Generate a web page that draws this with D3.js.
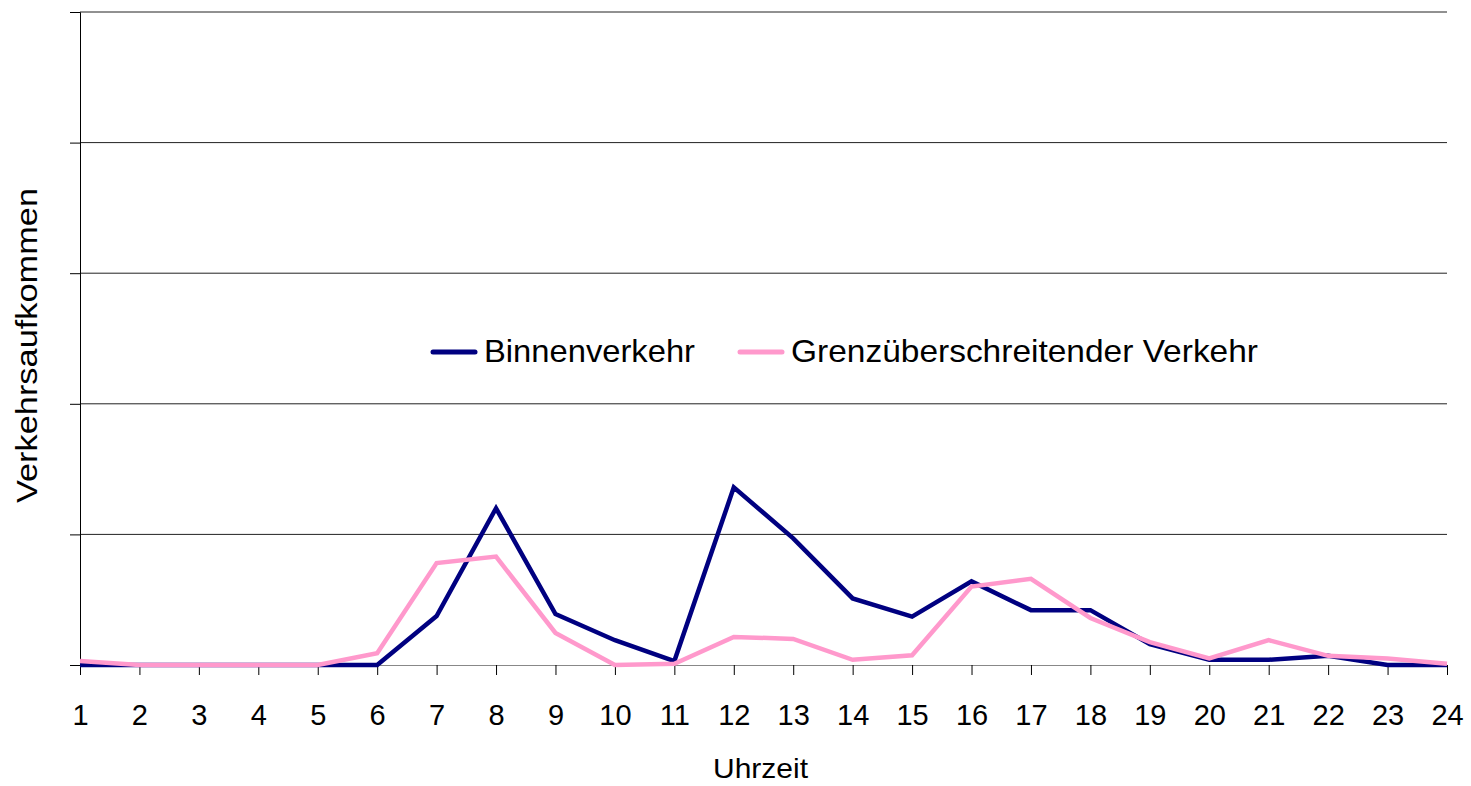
<!DOCTYPE html>
<html>
<head>
<meta charset="utf-8">
<script src="https://cdn.jsdelivr.net/npm/d3@7"></script>
<style>
	body { margin: 0; background: #fff; }
	svg text { font-family: "Liberation Sans", Arial, sans-serif; fill: #000; }
</style>
</head>
<body>
<svg id="chart" width="1471" height="786"></svg>
<script>
let hours = d3.range(1, 25);
let binnen = [0, 0, 0, 0, 0, 0, 3.75, 12.0, 3.9, 1.9, 0.3, 13.6, 9.7, 5.1, 3.7, 6.4, 4.2, 4.2, 1.6, 0.4, 0.4, 0.7, 0, 0];
let grenz = [0.3, 0, 0, 0, 0, 0.9, 7.8, 8.3, 2.45, 0, 0.1, 2.15, 2.0, 0.4, 0.75, 6.0, 6.6, 3.6, 1.75, 0.5, 1.9, 0.7, 0.5, 0.1];
let yTicks = [0, 10, 20, 30, 40, 50];
let seriesNames = ['Binnenverkehr', 'Grenzüberschreitender Verkehr'];
let seriesColors = ['#000080', '#ff99cc'];

let svg = d3.select('#chart');
let margin = { top: 12, right: 24, bottom: 121, left: 80 };
let width = +svg.attr('width') - margin.left - margin.right;
let height = +svg.attr('height') - margin.top - margin.bottom;

let x = d3.scaleLinear().domain([1, 24]).range([0, width]);
let y = d3.scaleLinear().domain([0, 50]).range([height, 0]);

let g = svg.append('g').attr('transform', 'translate(' + margin.left + ',' + margin.top + ')');

// gridlines
g.selectAll('.grid')
	.data(yTicks.slice(1))
	.enter().append('line')
	.attr('x1', 0).attr('x2', width)
	.attr('y1', (d) => y(d)).attr('y2', (d) => y(d))
	.attr('stroke', '#222').attr('stroke-width', 1);

// y axis, no labels
let yAxis = g.append('g')
	.call(d3.axisLeft(y).tickValues(yTicks).tickSize(10).tickFormat(''));
yAxis.select('.domain').attr('stroke', '#000');
yAxis.selectAll('.tick line').attr('stroke', '#000');

// x axis
let xAxis = g.append('g')
	.attr('transform', 'translate(0,' + height + ')')
	.call(d3.axisBottom(x).tickValues(hours).tickSize(10).tickSizeOuter(0).tickFormat(d3.format('d')));
xAxis.select('.domain').attr('stroke', '#888');
xAxis.selectAll('.tick line').attr('stroke', '#000');
xAxis.selectAll('.tick text')
	.attr('y', 50).attr('dy', '0.35em')
	.attr('font-size', 29).attr('font-family', '"Liberation Sans", Arial, sans-serif').attr('fill', '#000');

// lines
let line = d3.line().x((d, i) => x(hours[i])).y((d) => y(d));
[binnen, grenz].forEach((s, k) => {
	g.append('path')
		.datum(s)
		.attr('fill', 'none')
		.attr('stroke', seriesColors[k])
		.attr('stroke-width', 4.5)
		.attr('stroke-linejoin', 'miter')
		.attr('d', line);
});

// legend
let legendPos = [431, 738];
let legendTextLen = [211, 467];
seriesNames.forEach((name, k) => {
	let lg = svg.append('g').attr('transform', 'translate(' + legendPos[k] + ',352)');
	lg.append('line').attr('x1', 2).attr('x2', 44).attr('y1', 0).attr('y2', 0)
		.attr('stroke', seriesColors[k]).attr('stroke-width', 5).attr('stroke-linecap', 'round');
	lg.append('text').attr('x', 53).attr('y', 10)
		.attr('font-size', 32)
		.attr('textLength', legendTextLen[k]).attr('lengthAdjust', 'spacingAndGlyphs')
		.text(name);
});

// axis titles
svg.append('text')
	.attr('x', 713).attr('y', 778)
	.attr('font-size', 28)
	.attr('textLength', 95).attr('lengthAdjust', 'spacingAndGlyphs')
	.text('Uhrzeit');

svg.append('text')
	.attr('transform', 'translate(37,503) rotate(-90)')
	.attr('font-size', 30)
	.attr('textLength', 315).attr('lengthAdjust', 'spacingAndGlyphs')
	.text('Verkehrsaufkommen');
</script>
</body>
</html>
